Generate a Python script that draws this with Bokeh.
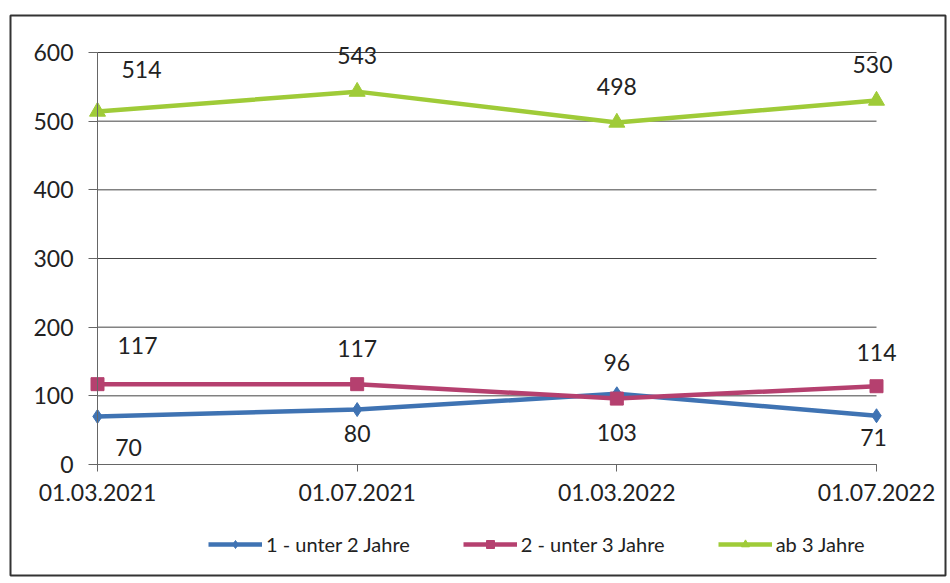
from bokeh.plotting import figure
from bokeh.models import Range1d, FixedTicker, Legend, LegendItem, ColumnDataSource, LabelSet
from bokeh.core.properties import value
from bokeh.embed import file_html
from bokeh.resources import INLINE

# ---- data ----
dates = ["01.03.2021", "01.07.2021", "01.03.2022", "01.07.2022"]
series_names = ["1 - unter 2 Jahre", "2 - unter 3 Jahre", "ab 3 Jahre"]
under2 = [70, 80, 103, 71]
under3 = [117, 117, 96, 114]
ab3 = [514, 543, 498, 530]
y_ticks = [0, 100, 200, 300, 400, 500, 600]

# ---- styles ----
colors = ["#3F73B3", "#B5406F", "#9FCB38"]
markers = ["diamond", "square", "triangle"]
marker_sizes = [14, 13, 16]
# label offsets (screen px, dy positive = down) per series
label_dx = [[31, 0, 0, -3], [40, 0, 0, 0], [44, 0, 0, -4]]
label_dy = [[31, 24, 39, 22], [-39, -36, -36, -34], [-42, -36, -36, -36]]

FONT = "Lato"
idx = list(range(len(dates)))

# plot geometry (px): value axis 0..600 spans 412 px, categories 779 px apart end to end
px_per_unit = 412 / 600
px_per_cat = 779 / (len(dates) - 1)
y_lo = -111 / px_per_unit
y_hi = y_ticks[-1] + 37 / px_per_unit
x_lo = -87 / px_per_cat
x_hi = idx[-1] + 69 / px_per_cat

p = figure(width=950, height=583, output_backend="svg", toolbar_location=None,
           x_range=Range1d(x_lo, x_hi), y_range=Range1d(y_lo, y_hi),
           min_border_left=10, min_border_right=5, min_border_top=15, min_border_bottom=8)
p.background_fill_color = "white"
p.border_fill_color = "white"
p.outline_line_color = "#333333"
p.outline_line_width = 2
p.xgrid.visible = False
p.ygrid.visible = False

# horizontal gridlines across the category span
p.segment(x0=idx[0], x1=idx[-1], y0=y_ticks, y1=y_ticks, line_color="#444444", line_width=1)

# axes
p.xaxis.fixed_location = 0
p.xaxis.bounds = (idx[0], idx[-1])
p.xaxis.ticker = FixedTicker(ticks=idx)
p.xaxis.major_label_overrides = {i: d for i, d in zip(idx, dates)}
p.yaxis.fixed_location = idx[0]
p.yaxis.ticker = FixedTicker(ticks=y_ticks)
p.yaxis.bounds = (y_ticks[0], y_ticks[-1])
for ax in (p.xaxis[0], p.yaxis[0]):
    ax.major_label_text_font = FONT
    ax.major_label_text_font_size = "23px"
    ax.major_label_text_color = "#222222"
    ax.minor_tick_line_color = None
    ax.major_tick_in = 0
    ax.axis_line_color = "#666666"
    ax.major_tick_line_color = "#666666"
p.xaxis.major_tick_out = 7
p.xaxis.major_label_standoff = 12
p.yaxis.major_tick_out = 9
p.yaxis.major_label_standoff = 15

items = []
for name, vals, c, m, ms, dx, dy in zip(series_names, [under2, under3, ab3], colors, markers,
                                         marker_sizes, label_dx, label_dy):
    src = ColumnDataSource(dict(x=idx, y=vals, t=[str(v) for v in vals],
                                dx=dx, dy=[-d for d in dy]))
    ln = p.line("x", "y", source=src, line_color=c, line_width=4.5)
    sc = p.scatter("x", "y", source=src, marker=m, size=ms, fill_color=c, line_color=c)
    p.add_layout(LabelSet(x="x", y="y", text="t", source=src, x_offset="dx", y_offset="dy",
                          text_font=value(FONT), text_font_size=value("23px"),
                          text_color="#222222",
                          text_align="center", text_baseline="middle"))
    items.append(LegendItem(label=name, renderers=[ln, sc]))

legend = Legend(items=items, orientation="horizontal", location=(198, 19),
                label_text_font=FONT, label_text_font_size="20px", label_text_color="#222222",
                glyph_width=54, glyph_height=20, label_height=20, label_standoff=4,
                spacing=53, padding=0, margin=0,
                border_line_color=None, background_fill_alpha=0)
p.add_layout(legend, "center")

open("out.html", "w").write(file_html(p, INLINE))
